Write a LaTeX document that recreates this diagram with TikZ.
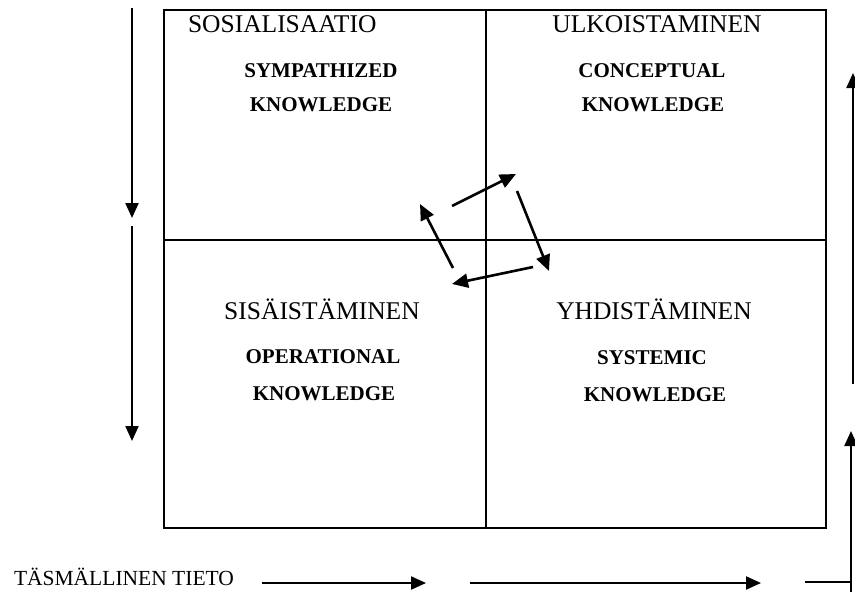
\documentclass[tikz,border=0pt]{standalone}
\usepackage{fontspec}
\setmainfont{Liberation Serif}
\usetikzlibrary{arrows.meta}
\begin{document}
\begin{tikzpicture}[x=1pt,y=-1pt,
  line width=2pt,
  cell/.style={draw,line width=2pt,minimum width=322pt,minimum height=230pt,inner sep=0pt,anchor=north west},
  cell2/.style={cell,minimum width=340pt},
  cell3/.style={cell,minimum height=288pt},
  cell4/.style={cell,minimum width=340pt,minimum height=288pt},
  title/.style={font=\fontsize{25.5}{30}\selectfont,inner sep=0pt,anchor=base},
  kn/.style={font=\fontsize{21}{25}\selectfont\bfseries,inner sep=0pt,anchor=base},
  arr/.style={-{Triangle[length=15pt,width=13pt]},line width=2.2pt},
  carr/.style={-{Triangle[length=16pt,width=14pt]},line width=2.6pt},
  lbl/.style={font=\fontsize{21.5}{25}\selectfont,inner sep=0pt,anchor=base west}
]
\useasboundingbox (0,0) rectangle (855,592);
% cells
\node[cell] (q1) at (163,9) {};
\node[cell2] (q2) at (485,9) {};
\node[cell3] (q3) at (163,239) {};
\node[cell4] (q4) at (485,239) {};
% texts
\node[title,anchor=base west] (t1) at (187,32) {SOSIALISAATIO};
\node[kn] (k1a) at (321,77) {SYMPATHIZED};
\node[kn] (k1b) at (321,111) {KNOWLEDGE};
\node[title] (t2) at (657,32) {ULKOISTAMINEN};
\node[kn] (k2a) at (652,77) {CONCEPTUAL};
\node[kn] (k2b) at (653,111) {KNOWLEDGE};
\node[title] (t3) at (322,319) {SISÄISTÄMINEN};
\node[kn] (k3a) at (323,363) {OPERATIONAL};
\node[kn] (k3b) at (324,400) {KNOWLEDGE};
\node[title] (t4) at (654,319) {YHDISTÄMINEN};
\node[kn] (k4a) at (652,364) {SYSTEMIC};
\node[kn] (k4b) at (655,401) {KNOWLEDGE};
\node[lbl] (tt) at (13,585) {TÄSMÄLLINEN TIETO};
% coordinates
\coordinate (l1s) at (132,8);   \coordinate (l1e) at (132,218);
\coordinate (l2s) at (132,226); \coordinate (l2e) at (132,441);
\coordinate (r1s) at (853,384); \coordinate (r1e) at (853,73);
\coordinate (r2s) at (851,592); \coordinate (r2e) at (851,431);
\coordinate (hs) at (805,582);  \coordinate (he) at (851,582);
\coordinate (b1s) at (262,583); \coordinate (b1e) at (426,583);
\coordinate (b2s) at (470,583); \coordinate (b2e) at (761,583);
\coordinate (c1s) at (452,206); \coordinate (c1e) at (516,174);
\coordinate (c2s) at (517,191); \coordinate (c2e) at (549,271);
\coordinate (c3s) at (533,267); \coordinate (c3e) at (452,284);
\coordinate (c4s) at (453,268); \coordinate (c4e) at (420,204);
% arrows
\draw[arr] (l1s) -- (l1e);
\draw[arr] (l2s) -- (l2e);
\draw[arr] (r1s) -- (r1e);
\draw[arr] (r2s) -- (r2e);
\draw[line width=2pt] (hs) -- (he);
\draw[arr] (b1s) -- (b1e);
\draw[arr] (b2s) -- (b2e);
\draw[carr] (c1s) -- (c1e);
\draw[carr] (c2s) -- (c2e);
\draw[carr] (c3s) -- (c3e);
\draw[carr] (c4s) -- (c4e);
\end{tikzpicture}
\end{document}
